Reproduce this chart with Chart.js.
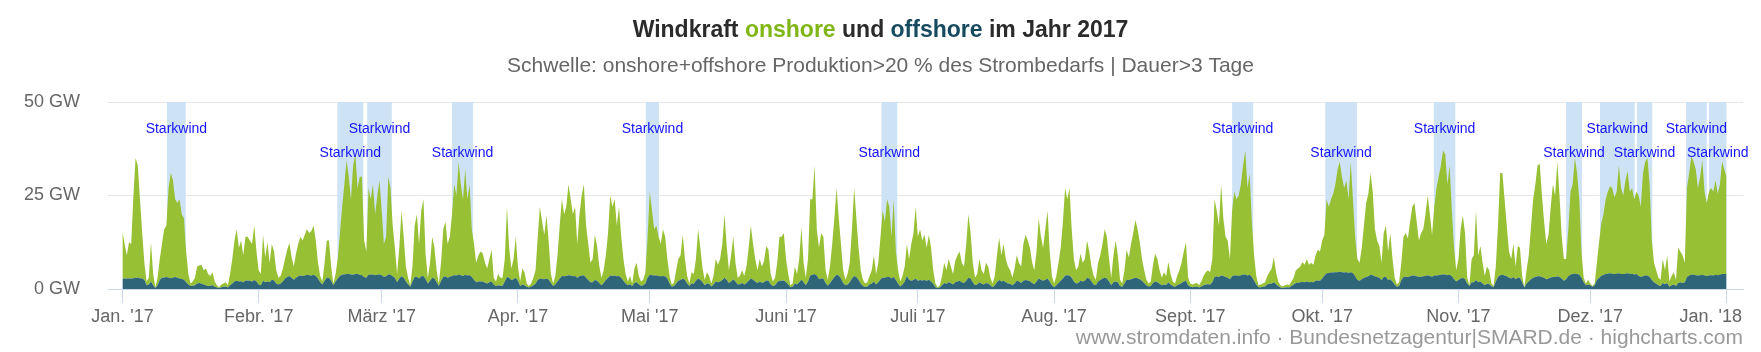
<!DOCTYPE html>
<html>
<head>
<meta charset="utf-8">
<script src="https://cdn.jsdelivr.net/npm/chart.js@4.4.1/dist/chart.umd.min.js"></script>
<style>
html,body{margin:0;padding:0;background:#ffffff;}
canvas{display:block;}
</style>
</head>
<body>
<canvas id="c" width="1761" height="352"></canvas>
<script>
// ---------- DATA ----------
// Sampling: one value every half day, starting 1 Jan 2017 00:00 (day 0)
const stepDays = 0.5;

// Top of the stack (onshore + offshore), GW
const totalGW = [
15.5,12,9,12.5,12,25,35,33,24,15,
7,2,3,12.5,4,0.5,3,8,12,16,
17,27,31,29,24,23,24,20,19,10,
4,1.5,2,3,6,6.3,6.5,5,5.5,4,
3.5,4.5,2,1,0.5,1.2,1.5,1.8,1,4,
8,13,16,11,13,9,14,14,13,12,
17,10,5,4,14.5,8.5,12.5,7,12,10,
5,3,3.5,5.5,8,10.5,12.3,8.5,6,9.5,
12,14,13,14.5,16,15,15.5,17,13,7,
3.5,2,7,13,13,6,1.5,4,8,15,
22,28,34.5,30,24,33,36,27,30,30,
13,10,27,24,28,20,25,29,21,12,
14,30,27,17,11,4,11,21,14,6,
3,1,6,17,20,12,21,24,9,3,
7,14,11,5,1.5,7,16,18,12,14,
20,28,25,34,28,24,32,24,28,16,
12,7,9,10,9.5,7,5.5,8,10.5,3,
2,4,3,3,8,22,11,5.5,8,14,
6,2,5.5,4.5,1.5,0.8,1.5,3,5,14,
22,18,14.5,19.7,12.5,4,1.5,3.5,9,17,
24,20,22,28,24,20,22,12,20,25,
28,17,12,7,8,14.5,11.5,6.2,3,5,
9,15,25,22,24,17,22,14,8,4,
2,3.5,1.5,5.5,7,3.5,2,2.5,4.5,14,
26,21,16,17,14,12,16,14,8,3.5,
1.2,1.7,5,8,9,14.5,8,3.5,1.5,4.5,
4,8,16,11,5.5,2.5,4.5,3.5,1.5,3.5,
8,6.5,8,12,20,11.5,5,9,14,7,
3,3.5,5,3.5,6,11,17,12,8,5,
8,6,7.5,11.5,10.5,4,2,3,7,14,
14,15,8,4,1,1.5,6,4,8,16.5,
7,3,8,24,24,33,16,11,15,14,
5,2.5,6,12,19,27,19,12,5,2.5,
4,7,16,27,19,11,5,2.5,1.5,1.8,
3.5,5,9,4,7,14,21,18,24,22,
14,24,10,5,2,3.5,6,12,8,12,
15,22,14,16,13,14.5,11,14.5,11,5,
1.5,0.5,1,3.5,7,5,8,6,4,7.5,
9,10,7,6,12,20,15,7,3,4,
8,5,4,7,6,3,1.5,3.5,9,13.7,
9,12,8,6,5,3,5.5,9,7,6,
12,14.5,13,11,7,5,10,19,14,11,
16,21,10,3.5,1.5,3.5,7,11,18,27,
24,27,16,8,5,6,9.5,7,8,13,
10,6,3.5,2.5,7,9,12,16,14,8,
3,9,13,9,2.5,1.5,5,10.5,8.5,12,
15,18.5,16,12.5,8,5,2.5,1.5,2,6.5,
9.5,8,5,3,4.5,3.5,7.2,4,2,1.5,
3.5,5,7,10,12.5,3,1.5,1.2,1.5,1.6,
1,2,3.5,4.5,5,4.5,8,24,21,17,
28,19,14,13,8,21,26,24,25,28,
33,37,27,30.8,18,9,3.5,1,1.2,1.5,
1.8,3.5,4.5,5.5,8.5,4.5,2,1,0.7,1,
1.2,1,2,3,5,5.5,6,7.2,6.5,8,
6.5,7,6.5,9,10.5,10,13,14.5,24,22,
24,25.5,28,32,34,30,27,29,24,34,
24,14,8,7,11,17,23,25.5,31,26,
16,13,11.5,7,15,17,10,15,8,3,
1.2,1.8,7,14,15,13.5,18,22,23,18,
13,15,16,20,25,20,14.5,22,27,30,
33,37,36,28,33,21,11,5,8,16,
19.7,15,3,1,8,9,21,9,11.5,7,
3.5,6,5,1.5,0.8,6,17,31,31,24,
17,10,8,12,6,11.5,11,3.5,0.5,5,
9,16.5,24,28,33,33.5,25,18,12,14.5,
22,28,25,34,25,14,8,8,16,26,
28,35,31,24,10,3,1.5,2.5,1.5,0.8,
1.5,7,12.5,17.5,20,24,26,27.5,27,24.5,
26,33,27,25,29,31.5,26,27,24,26,
25,22,31,34,35,28,13,7,5,3,
2.5,8,5,9,2,3.5,4.5,2.5,11,10,
9,7,27,31,35.5,34,32,27,30,34.5,
26,23,26,27,26,29,25.5,28,34,32,
30
];

// Offshore production, GW
const offshoreGW = [
2.8,2.8,2.8,2.8,2.8,2.9,3,3,2.9,2.8,
2.5,1,1.2,2,1,0.3,1,2.5,3,3.1,
3.2,3,2.9,3,3.2,3,2.8,2.7,2.5,1.8,
1.2,0.8,0.9,1,1.5,1.6,1.4,1.2,1,0.8,
0.9,1,0.6,0.4,0.3,0.5,0.6,0.7,0.4,1,
1.5,2,2.2,2,2.1,1.8,2.2,2.3,2.2,2,
2.4,2,1.2,1,2.2,1.8,2,1.8,2.5,2.3,
1.5,1.2,1.5,2,2.8,3.2,3.5,3,2.5,3,
3.4,3.6,3.5,3.6,3.8,3.7,3.6,3.8,3.5,2.8,
1.8,1.2,2.2,3,3,2.2,1,2,2.8,3.5,
3.8,3.9,4,4,3.9,3.8,4,4,3.8,3.7,
3.2,3,3.8,3.8,3.9,3.7,3.8,3.9,3.7,3.2,
3.4,3.9,3.8,3.4,3,1.8,2.8,3.4,3,2,
1.3,0.6,2,3.2,3.3,2.8,3.4,3.5,2.6,1.5,
2.2,3,2.8,1.8,0.8,2.2,3.2,3.4,3,3.3,
3.5,3.7,3.6,3.8,3.7,3.5,3.8,3.6,3.7,3.2,
2.5,1.8,2,2,2,1.7,1.5,1.8,2,1.2,
0.8,1,0.9,0.9,2,3.2,3,2.4,2.6,3,
2.2,0.8,1.2,1,0.6,0.4,0.6,1,1.4,2.4,
2.8,2.7,2.6,2.8,2.5,1.6,0.8,1.2,2,2.8,
3.5,3.4,3.5,3.7,3.6,3.4,3.5,3,3.4,3.6,
3.7,3,2.4,1.8,1.8,2.4,2.2,1.6,1,1.6,
2.4,3,3.6,3.5,3.6,3.4,3.5,3,2.2,1.5,
1,1.3,0.8,1.6,1.8,1.3,0.9,1,1.5,3,
3.8,3.7,3.6,3.6,3.5,3.4,3.5,3.4,2.8,1.5,
0.6,0.8,1.5,2.2,2.4,2.8,2.4,1.5,0.8,1.5,
1.4,2.2,2.8,2.5,1.8,1,1.5,1.4,0.7,1.2,
2,1.8,2,2.4,3,2.5,1.6,2,2.6,2,
1.2,1.3,1.6,1.2,1.6,2.2,2.8,2.5,2,1.6,
2,1.7,1.8,2.3,2.2,1.3,0.8,1,1.8,2.2,
2.2,2.3,1.8,1.2,0.5,0.6,1.5,1.2,1.8,2.5,
1.8,1,2,3.6,3.8,4,3.6,2.6,2.8,2.8,
1.6,0.9,1.6,2.4,3.2,3.8,3.6,2.8,1.6,1,
1.2,1.8,2.8,3.5,3.2,2.4,1.5,0.8,0.6,0.7,
1.2,1.5,2,1.2,1.8,2.6,3,3,3.2,3.2,
2.8,3.2,2.4,1.4,0.7,1.2,2,3.5,2.5,2.2,
2.4,2.8,2.2,2.4,2.3,2.4,2.2,2.5,2,1.4,
0.5,0.3,0.4,1,1.6,1.4,1.8,1.6,1.2,1.8,
2,2.2,1.8,1.6,2.2,3,2.8,1.8,1,1.2,
1.8,1.4,1.2,1.6,1.5,1,0.5,1,1.8,2.4,
2,2.2,1.8,1.5,1.4,1,1.5,2.2,2,1.6,
2.2,2.4,2.3,2.1,1.6,1.3,2,2.8,2.5,2.2,
2.5,2.8,2,1,0.5,1,1.6,2.2,2.8,3.6,
3.7,3.6,3,2,1.5,1.6,2.2,2,2.2,3,
2.8,2,1.2,1,2,2.4,2.8,3,2.8,2,
1,1.8,2,1.8,0.8,0.6,1.5,2.5,2.4,2.6,
2.8,3,2.9,2.6,2.2,1.6,1,0.7,0.8,1.6,
2,1.8,1.4,1,1.2,1.1,1.8,1.2,0.8,0.6,
1,1.3,1.6,2,2.2,1,0.6,0.5,0.6,0.6,
0.4,0.7,1,1.2,1.3,1.2,1.8,3.2,3.4,3.2,
3.6,3.5,3.2,3,2.6,3.4,3.6,3.6,3.5,3.7,
3.8,3.9,3.6,3.8,3.2,2.2,1.2,0.5,0.5,0.6,
0.7,1.2,1.4,1.5,1.8,1.3,0.8,0.4,0.3,0.4,
0.5,0.4,0.8,1.2,1.6,1.7,1.8,1.9,1.8,2,
1.8,1.9,1.8,2.2,2.3,2.2,2.8,3.6,4.2,4.3,
4.4,4.4,4.5,4.5,4.6,4.5,4.4,4.5,4.3,4.5,
4.2,3.4,2.4,2.2,2.6,3,3.2,3.4,3.8,3.7,
3.4,3.2,3,2.4,3.2,3.3,2.4,2.6,2,1.2,
0.6,0.8,2.4,3.2,3.3,3.2,3.4,3.6,3.6,3.4,
3.2,3.3,3.4,3.5,3.7,3.5,3.3,3.6,3.6,3.7,
3.8,3.9,3.9,3.7,3.8,3.4,2.6,2,2.4,2.8,
3,2.6,1.5,0.8,1.8,1.8,2.4,1.8,2,1.5,
1,1.4,1.3,0.8,0.5,2,3.2,3.7,3.8,3.6,
3.4,3,2.8,3.2,2.6,3,3,1.8,0.4,1.5,
2,2.6,3,3.2,3.4,3.4,3.2,3,2.6,2.8,
3.1,3.2,3.2,3.4,3.2,2.8,2.2,2.6,3.4,3.8,
4,4.1,4,3.8,3,1.8,1,1.2,1,0.6,
1,2.4,3,3.5,3.8,4,4.1,4.2,4.1,4,
4.1,4.2,4,4,4.1,4.2,4,4.1,3.9,4,
3.5,3.2,3.4,3.6,3.6,3.2,2.4,1.8,1.4,1,
0.8,1.6,1.3,1.6,0.6,1,1.2,0.8,1.6,1.8,
1.6,1.8,3.2,3.6,3.8,3.8,3.7,3.6,3.7,3.8,
3.6,3.5,3.6,3.7,3.6,3.8,3.7,3.8,4,4,
4
];

// Month ticks (day of year) and their labels
const monthStartDays = [0,31,59,90,120,151,181,212,243,273,304,334,365];
const monthLabels = ["Jan. '17","Febr. '17","März '17","Apr. '17","Mai '17","Juni '17","Juli '17","Aug. '17","Sept. '17","Okt. '17","Nov. '17","Dez. '17","Jan. '18"];

// "Starkwind" periods (start day, end day)
const bandStart = [10.15,48.9,55.7,75.0,119.1,172.7,252.5,273.7,298.4,328.5,336.2,344.6,355.8,361.0];
const bandEnd   = [14.4,54.8,61.3,79.8,122.1,176.3,257.3,280.9,303.3,332.1,344.1,348.1,360.5,365.0];
const bandLabel = "Starkwind";

// Y ticks
const yTicks = [0,25,50];
const yUnit = " GW";

// Texts
const titleParts = [["Windkraft ","#2b2b2b"],["onshore","#7fb514"],[" und ","#2b2b2b"],["offshore","#164a5e"],[" im Jahr 2017","#2b2b2b"]];
const subtitleText = "Schwelle: onshore+offshore Produktion>20 % des Strombedarfs | Dauer>3 Tage";
const creditsText = "www.stromdaten.info \u00b7 Bundesnetzagentur|SMARD.de \u00b7 highcharts.com";

// ---------- BUILD ----------
const FONT = "'Liberation Sans', Arial, Helvetica, sans-serif";
const offshorePts = offshoreGW.map((v, i) => ({x: i * stepDays, y: v}));
const onshorePts = totalGW.map((v, i) => ({x: i * stepDays, y: Math.max(0, v - offshoreGW[i])}));

const lastLabelDay = 361.4; // where the shifted last month label sits (Highcharts keeps it inside)
const tickDays = monthStartDays.slice(0, 12).concat([lastLabelDay, 365]);

const bandsPlugin = {
  id: 'bands',
  beforeDatasetsDraw(chart) {
    const {ctx, chartArea: a, scales: {x}} = chart;
    ctx.save();
    ctx.fillStyle = '#cde2f5';
    for (let i = 0; i < bandStart.length; i++) {
      const x0 = x.getPixelForValue(bandStart[i]);
      const x1 = x.getPixelForValue(bandEnd[i]);
      ctx.fillRect(x0, a.top, x1 - x0, a.bottom - a.top);
    }
    ctx.restore();
  },
  afterDatasetsDraw(chart) {
    const {ctx, chartArea: a, scales: {x}} = chart;
    ctx.save();
    ctx.font = '14px ' + FONT;
    ctx.fillStyle = '#1414ff';
    ctx.textAlign = 'center';
    ctx.textBaseline = 'middle';
    for (let i = 0; i < bandStart.length; i++) {
      const cx = (x.getPixelForValue(bandStart[i]) + x.getPixelForValue(bandEnd[i])) / 2;
      const cy = a.top + (i % 2 === 0 ? 27 : 51);
      ctx.fillText(bandLabel, cx, cy);
    }
    ctx.restore();
  }
};

const textPlugin = {
  id: 'texts',
  afterDraw(chart) {
    const ctx = chart.ctx;
    const cx = chart.width / 2;
    ctx.save();
    ctx.textBaseline = 'middle';
    ctx.font = 'bold 23px ' + FONT;
    let w = 0;
    titleParts.forEach(p => { w += ctx.measureText(p[0]).width; });
    let xx = cx - w / 2;
    ctx.textAlign = 'left';
    titleParts.forEach(p => {
      ctx.fillStyle = p[1];
      ctx.fillText(p[0], xx, 31);
      xx += ctx.measureText(p[0]).width;
    });
    ctx.font = '21px ' + FONT;
    ctx.fillStyle = '#666666';
    ctx.textAlign = 'center';
    ctx.fillText(subtitleText, cx, 66);
    ctx.font = '21px ' + FONT;
    ctx.fillStyle = '#999999';
    ctx.textAlign = 'right';
    ctx.fillText(creditsText, chart.chartArea.right, 338);
    ctx.restore();
  }
};

new Chart(document.getElementById('c'), {
  type: 'line',
  data: {
    datasets: [
      {label: 'offshore', data: offshorePts, backgroundColor: '#2f6579', borderColor: '#2f6579', borderWidth: 0, fill: 'origin', pointRadius: 0, tension: 0},
      {label: 'onshore', data: onshorePts, backgroundColor: '#98c034', borderColor: '#98c034', borderWidth: 0, fill: '-1', pointRadius: 0, tension: 0}
    ]
  },
  options: {
    responsive: false,
    animation: false,
    devicePixelRatio: 1,
    layout: {padding: {top: 102, right: 18, left: 0, bottom: 0}},
    plugins: {legend: {display: false}, tooltip: {enabled: false}, title: {display: false}},
    elements: {line: {borderWidth: 0}},
    scales: {
      x: {
        type: 'linear',
        min: -3.28,
        max: 368.75,
        afterBuildTicks(scale) { scale.ticks = tickDays.map(v => ({value: v})); },
        afterFit(scale) { scale.height = 63; },
        ticks: {
          autoSkip: false, maxRotation: 0, minRotation: 0,
          color: '#666666', font: {family: FONT, size: 18}, padding: 3,
          callback(value) {
            if (value === 365) return '';
            if (value === lastLabelDay) return monthLabels[12];
            const k = monthStartDays.indexOf(value);
            return k >= 0 ? monthLabels[k] : '';
          }
        },
        grid: {
          drawOnChartArea: false, drawTicks: true, tickLength: 14, tickWidth: 1,
          tickColor: ctx => (ctx.tick && ctx.tick.value === lastLabelDay) ? 'rgba(0,0,0,0)' : '#ccd6eb'
        },
        border: {display: true, color: '#ccd6eb', width: 1}
      },
      y: {
        stacked: true,
        min: 0, max: 50,
        afterBuildTicks(scale) { scale.ticks = yTicks.map(v => ({value: v})); },
        afterFit(scale) { scale.width = 108; },
        ticks: {color: '#666666', font: {family: FONT, size: 18}, padding: 28, callback: v => v + yUnit},
        grid: {color: '#e6e6e6', lineWidth: 1, drawTicks: false},
        border: {display: false}
      }
    }
  },
  plugins: [bandsPlugin, textPlugin]
});
</script>
</body>
</html>
